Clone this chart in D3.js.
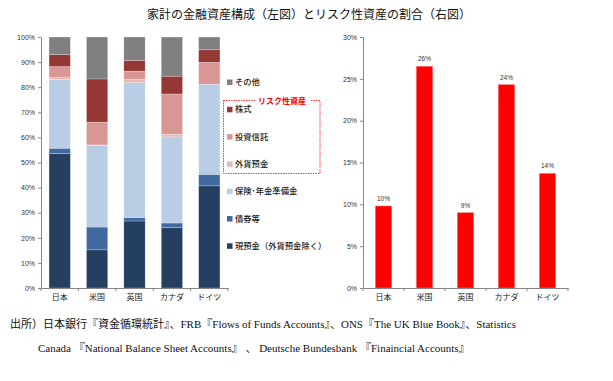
<!DOCTYPE html>
<html>
<head>
<meta charset="utf-8">
<script src="https://cdn.jsdelivr.net/npm/d3@7"></script>
<style>
  body { margin: 0; background: #fff; }
  svg { display: block; }
</style>
</head>
<body>
<svg id="chart" width="613" height="381"></svg>
<script>
// 国名
const countries = ['日本', '米国', '英国', 'カナダ', 'ドイツ'];

// 左図：金融資産構成（%）
const cashDeposits = [53.6, 15.2, 26.7, 24.1, 40.7];   // 現預金（外貨預金除く）
const bonds = [2.1, 9.1, 1.4, 1.8, 4.6];               // 債券等
const insurance = [27.4, 32.6, 53.7, 34.3, 35.9];      // 保険・年金準備金
const fxDeposits = [0.7, 0.1, 1.4, 1.1, 0.0];          // 外貨預金
const investTrusts = [4.4, 9.1, 3.2, 16.0, 8.7];       // 投資信託
const stocks = [4.8, 17.2, 4.3, 7.1, 5.0];             // 株式
const others = [7.0, 16.7, 9.3, 15.6, 5.1];            // その他

const seriesNames = ['現預金（外貨預金除く）', '債券等', '保険･年金準備金', '外貨預金', '投資信託', '株式', 'その他'];
const seriesColors = ['#243f60', '#41699f', '#b9cde5', '#e6b9b8', '#d99694', '#953735', '#808080'];

// 右図：リスク性資産の割合（%）
const riskShare = [9.8, 26.5, 9.0, 24.3, 13.7];
const riskLabels = ['10%', '26%', '9%', '24%', '14%'];

const leftTicks = [0, 10, 20, 30, 40, 50, 60, 70, 80, 90, 100];
const rightTicks = [0, 5, 10, 15, 20, 25, 30];

const svg = d3.select('#chart');
const jpFont = '"Noto Sans CJK JP", "Noto Sans", sans-serif';
const numFont = '"Liberation Sans", Arial, sans-serif';

// タイトル
svg.append('text')
    .attr('x', 309)
    .attr('y', 19)
    .attr('text-anchor', 'middle')
    .style('font-family', jpFont)
    .style('font-size', '12px')
    .style('fill', '#111')
    .text('家計の金融資産構成（左図）とリスク性資産の割合（右図）');

// ---------- 左図 ----------
const x1 = d3.scaleBand().domain(countries).range([41, 228]).paddingInner(0.43).paddingOuter(0.215);
const y1 = d3.scaleLinear().domain([0, 100]).range([288, 37]);

const rows = countries.map((c, i) => ({
    country: c,
    s0: cashDeposits[i], s1: bonds[i], s2: insurance[i], s3: fxDeposits[i],
    s4: investTrusts[i], s5: stocks[i], s6: others[i]
}));
const stack = d3.stack().keys(['s0', 's1', 's2', 's3', 's4', 's5', 's6']);
const stacked = stack(rows);

const left = svg.append('g');

left.selectAll('g.layer')
    .data(stacked)
    .enter()
    .append('g')
    .attr('class', 'layer')
    .style('fill', (d, i) => seriesColors[i])
    .selectAll('rect')
    .data(d => d)
    .enter()
    .append('rect')
    .attr('x', d => x1(d.data.country))
    .attr('y', d => y1(d[1]))
    .attr('width', x1.bandwidth())
    .attr('height', d => Math.max(0, y1(d[0]) - y1(d[1])))
    .style('stroke', 'rgba(255,255,255,0.5)')
    .style('stroke-width', 0.5);

// 軸
function styleAxis(g) {
    g.select('.domain').attr('stroke', '#868686');
    g.selectAll('.tick line').attr('stroke', '#868686');
    g.selectAll('.tick text')
        .style('font-family', numFont)
        .style('font-size', '7px')
        .style('fill', '#333');
}

left.append('g')
    .attr('transform', 'translate(41,0)')
    .call(d3.axisLeft(y1).tickValues(leftTicks).tickFormat(d => d + '%').tickSize(3).tickSizeOuter(0))
    .call(styleAxis);

function categoryAxis(parent, x, yPos) {
    const g = parent.append('g').attr('transform', `translate(0,${yPos})`);
    g.call(d3.axisBottom(x).tickSize(0).tickSizeOuter(0).tickPadding(6));
    g.select('.domain').attr('stroke', '#868686');
    g.selectAll('.tick text')
        .style('font-family', jpFont)
        .style('font-size', '8px')
        .style('fill', '#222');
    // 区切りのタック
    const r = x.range();
    const bounds = d3.range(countries.length + 1).map(i => r[0] + i * x.step());
    g.selectAll('line.sep')
        .data(bounds)
        .enter()
        .append('line')
        .attr('class', 'sep')
        .attr('x1', d => d).attr('x2', d => d)
        .attr('y1', 0).attr('y2', 3)
        .attr('stroke', '#868686');
}
categoryAxis(left, x1, 288);

// 凡例
const legendItems = [6, 5, 4, 3, 2, 1, 0];
const legend = svg.append('g');
legendItems.forEach((k, i) => {
    const yy = 82 + i * 27.3;
    legend.append('rect')
        .attr('x', 227)
        .attr('y', yy - 2.5)
        .attr('width', 5.5)
        .attr('height', 5.5)
        .style('fill', seriesColors[k]);
    legend.append('text')
        .attr('x', 235)
        .attr('y', yy + 3)
        .style('font-family', jpFont)
        .style('font-size', '8.3px')
        .style('font-weight', 500)
        .style('fill', '#1a1a1a')
        .text(seriesNames[k]);
});

// リスク性資産の点線枠
legend.append('rect')
    .attr('x', 223.5)
    .attr('y', 100.5)
    .attr('width', 96.5)
    .attr('height', 73)
    .style('fill', 'none')
    .style('stroke', '#ff0000')
    .style('stroke-width', 0.8)
    .style('stroke-dasharray', '1.5,1');
legend.append('rect')
    .attr('x', 256)
    .attr('y', 96)
    .attr('width', 54)
    .attr('height', 9)
    .style('fill', '#fff');
legend.append('text')
    .attr('x', 258)
    .attr('y', 103.5)
    .style('font-family', jpFont)
    .style('font-size', '8px')
    .style('font-weight', 'bold')
    .style('fill', '#ff0000')
    .text('リスク性資産');

// ---------- 右図 ----------
const x2 = d3.scaleBand().domain(countries).range([363, 568]).paddingInner(0.6).paddingOuter(0.3);
const y2 = d3.scaleLinear().domain([0, 30]).range([288, 37]);

const right = svg.append('g');

right.selectAll('rect.bar')
    .data(riskShare)
    .enter()
    .append('rect')
    .attr('class', 'bar')
    .attr('x', (d, i) => x2(countries[i]))
    .attr('y', d => y2(d))
    .attr('width', x2.bandwidth())
    .attr('height', d => y2(0) - y2(d))
    .style('fill', '#ff0000')
    .style('stroke', '#ff8080')
    .style('stroke-width', 0.5);

right.selectAll('text.val')
    .data(riskShare)
    .enter()
    .append('text')
    .attr('class', 'val')
    .attr('x', (d, i) => x2(countries[i]) + x2.bandwidth() / 2)
    .attr('y', d => y2(d) - 5)
    .attr('text-anchor', 'middle')
    .style('font-family', numFont)
    .style('font-size', '6.5px')
    .style('fill', '#333')
    .text((d, i) => riskLabels[i]);

right.append('g')
    .attr('transform', 'translate(363,0)')
    .call(d3.axisLeft(y2).tickValues(rightTicks).tickFormat(d => d + '%').tickSize(3).tickSizeOuter(0))
    .call(styleAxis);

categoryAxis(right, x2, 288);

// 出所
const notes = svg.append('g')
    .style('font-family', '"Liberation Serif", "Noto Sans CJK JP", serif')
    .style('font-size', '11px')
    .style('fill', '#111');
notes.append('text')
    .attr('x', 10)
    .attr('y', 328)
    .text('出所）日本銀行『資金循環統計』、FRB『Flows of Funds Accounts』、ONS『The UK Blue Book』、Statistics');
notes.append('text')
    .attr('x', 38)
    .attr('y', 352)
    .text('Canada 『National Balance Sheet Accounts』 、 Deutsche Bundesbank 『Finaincial Accounts』');
</script>
</body>
</html>
